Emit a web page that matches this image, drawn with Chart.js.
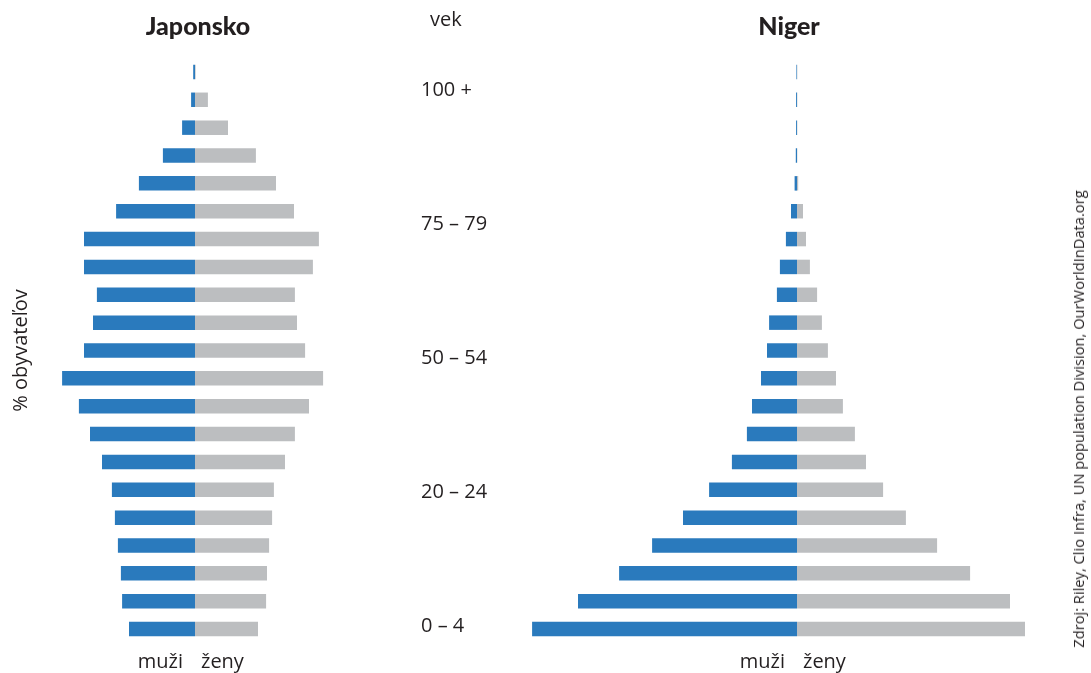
<!DOCTYPE html>
<html>
<head>
<meta charset="utf-8">
<script src="https://cdn.jsdelivr.net/npm/chart.js@4.4.1/dist/chart.umd.min.js"></script>
<style>
  html, body { margin: 0; padding: 0; background: #fff; }
  #page { position: relative; width: 1091px; height: 673px; overflow: hidden;
          font-family: 'Open Sans', sans-serif; color: #231f20; }
  canvas { position: absolute; top: 0; }
  .title { position: absolute; top: 8px; font-family: Lato, sans-serif; font-weight: 900;
           font-size: 25px; line-height: 34px; transform: translateX(-50%); white-space: nowrap; }
  .vek { position: absolute; left: 430px; top: 4px; font-size: 20px; line-height: 30px; }
  .source { position: absolute; left: 1078px; top: 419px; font-size: 14.7px; white-space: nowrap;
            transform: translate(-50%, -50%) rotate(-90deg); }
</style>
</head>
<body>
<div id="page">
  <canvas id="japan" width="420" height="673" style="left:0"></canvas>
  <canvas id="niger" width="691" height="673" style="left:400px"></canvas>
  <div class="title" style="left:198px">Japonsko</div>
  <div class="title" style="left:789px">Niger</div>
  <div class="vek">vek</div>
  <div class="source">Zdroj: Riley, Clio Infra, UN population Division, OurWorldInData.org</div>
</div>
<script>
// Age groups, youngest first
const ageGroups = ['0–4', '5–9', '10–14', '15–19', '20–24', '25–29', '30–34', '35–39', '40–44',
  '45–49', '50–54', '55–59', '60–64', '65–69', '70–74', '75–79', '80–84', '85–89', '90–94',
  '95–99', '100+'];

// Share of total population, % (men / women)
const japanMale   = [2.20, 2.43, 2.47, 2.57, 2.67, 2.77, 3.10, 3.50, 3.87, 4.43, 3.70,
                     3.40, 3.27, 3.70, 3.70, 2.63, 1.87, 1.07, 0.43, 0.13, 0.06];
const japanFemale = [2.10, 2.37, 2.40, 2.47, 2.57, 2.63, 3.00, 3.33, 3.80, 4.27, 3.67,
                     3.40, 3.33, 3.93, 4.13, 3.30, 2.70, 2.03, 1.10, 0.43, 0.02];
const nigerMale   = [8.83, 7.30, 5.93, 4.83, 3.80, 2.93, 2.17, 1.67, 1.50, 1.20, 1.00,
                     0.93, 0.67, 0.57, 0.37, 0.20, 0.08, 0.04, 0.03, 0.03, 0.02];
const nigerFemale = [7.60, 7.10, 5.77, 4.67, 3.63, 2.87, 2.30, 1.93, 1.53, 1.30, 1.03,
                     0.83, 0.67, 0.43, 0.30, 0.20, 0.04, 0.01, 0.01, 0.01, 0.01];

// Labels of the middle age axis
const ageTickLabels = ['0 – 4', '20 – 24', '50 – 54', '75 – 79', '100 +'];
const sexLabels = ['muži', 'ženy'];

const BLUE = '#2a7abd';
const GREY = '#bcbec0';
const TEXT = '#231f20';

// Writes "muži" / "ženy" under the zero line of each pyramid
const sexLabelPlugin = {
  id: 'sexLabels',
  afterDraw(chart) {
    const ctx = chart.ctx;
    const x0 = chart.scales.x.getPixelForValue(0);
    const y = chart.chartArea.bottom + 19;
    ctx.save();
    ctx.font = '20px "Open Sans", sans-serif';
    ctx.fillStyle = TEXT;
    ctx.textBaseline = 'middle';
    ctx.textAlign = 'right';
    ctx.fillText(sexLabels[0], x0 - 12, y);
    ctx.textAlign = 'left';
    ctx.fillText(sexLabels[1], x0 + 6, y);
    ctx.restore();
  }
};

function datasets(male, female) {
  return [
    { label: sexLabels[0], data: male.map(v => -v), backgroundColor: BLUE, borderWidth: 0,
      categoryPercentage: 1, barPercentage: 0.52 },
    { label: sexLabels[1], data: female, backgroundColor: GREY, borderWidth: 0,
      categoryPercentage: 1, barPercentage: 0.52 }
  ];
}

new Chart(document.getElementById('japan'), {
  type: 'bar',
  plugins: [sexLabelPlugin],
  data: { labels: ageGroups, datasets: datasets(japanMale, japanFemale) },
  options: {
    indexAxis: 'y',
    responsive: false,
    animation: false,
    layout: { padding: { left: 0, right: 75, top: 58, bottom: 30 } },
    plugins: { legend: { display: false }, tooltip: { enabled: false } },
    scales: {
      x: { stacked: true, min: -5, max: 5, display: false },
      y: {
        stacked: true, reverse: true, position: 'left',
        grid: { display: false }, border: { display: false },
        ticks: { display: false },
        title: { display: true, text: '% obyvateľov', color: TEXT,
                 font: { family: 'Open Sans', size: 20 }, padding: { top: 9, bottom: 0 } },
        afterFit(scale) { scale.width = 45; }
      }
    }
  }
});

new Chart(document.getElementById('niger'), {
  type: 'bar',
  plugins: [sexLabelPlugin],
  data: { labels: ageGroups, datasets: datasets(nigerMale, nigerFemale) },
  options: {
    indexAxis: 'y',
    responsive: false,
    animation: false,
    layout: { padding: { left: 21, right: 24, top: 58, bottom: 30 } },
    plugins: { legend: { display: false }, tooltip: { enabled: false } },
    scales: {
      x: { stacked: true, min: -9, max: 9, display: false },
      y: { stacked: true, reverse: true, display: false },
      age: {
        type: 'linear', position: 'left', offset: false, min: -3.17, max: 105.97,
        grid: { display: false, offset: false }, border: { display: false },
        afterBuildTicks(scale) { scale.ticks = ageTickLabels.map((_, i) => ({ value: i * 25 })); },
        afterFit(scale) { scale.width = 106; },
        ticks: {
          autoSkip: false, crossAlign: 'far', color: TEXT,
          font: { family: 'Open Sans', size: 20 },
          callback: (v, i) => ageTickLabels[i]
        }
      }
    }
  }
});
</script>
</body>
</html>
